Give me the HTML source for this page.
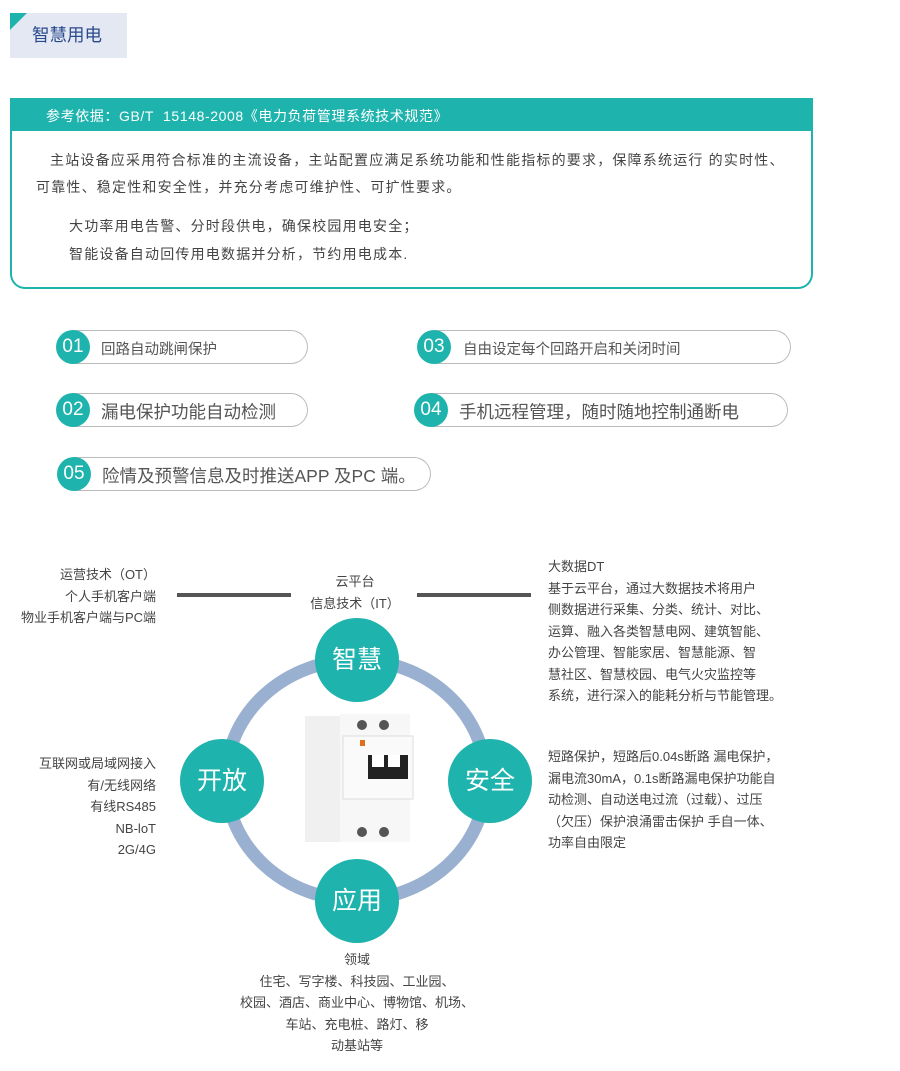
<!DOCTYPE html>
<html><head><meta charset="utf-8"><style>
*{margin:0;padding:0;box-sizing:border-box}
body{width:900px;height:1071px;background:#fff;position:relative;overflow:hidden;font-family:"Liberation Sans","Noto Sans CJK SC",sans-serif;color:#444}
.a{position:absolute}
.pill{position:absolute;height:34px;border:1px solid #bbb;border-left:none;border-radius:0 17px 17px 0;}
.num{position:absolute;width:34px;height:34px;border-radius:50%;background:#1fb3ad;color:#fff;font-size:19px;text-align:center;line-height:34px}
.pt{position:absolute;color:#555;white-space:nowrap}
.big{position:absolute;width:84px;height:84px;border-radius:50%;background:#1fb3ad;color:#fff;font-size:25px;text-align:center;line-height:84px}
.t{position:absolute;font-size:13px;line-height:21.5px;color:#444;white-space:nowrap}
.p{position:absolute;font-size:14px;letter-spacing:1.2px;color:#444;white-space:nowrap}
</style></head><body>
<div class="a" style="left:10px;top:13px;width:117px;height:45px;background:#e3e8f3"></div>
<div class="a" style="left:10px;top:13px;width:0;height:0;border-top:17px solid #1fb3ad;border-right:17px solid transparent"></div>
<div class="a" style="left:32px;top:22px;font-size:17.5px;color:#2b4a8c">智慧用电</div>

<div class="a" style="left:10px;top:98px;width:803px;height:191px;border:2px solid #1fb3ad;border-top:none;border-radius:0 0 15px 15px"></div>
<div class="a" style="left:10px;top:98px;width:803px;height:33px;background:#1fb3ad"></div>
<div class="a" style="left:46px;top:106px;font-size:14px;letter-spacing:0.6px;color:#fff;white-space:nowrap">参考依据：GB/T&nbsp; 15148-2008《电力负荷管理系统技术规范》</div>
<div class="p" style="left:50px;top:150px">主站设备应采用符合标准的主流设备，主站配置应满足系统功能和性能指标的要求，保障系统运行 的实时性、</div>
<div class="p" style="left:36px;top:177px">可靠性、稳定性和安全性，并充分考虑可维护性、可扩性要求。</div>
<div class="p" style="left:69px;top:216px">大功率用电告警、分时段供电，确保校园用电安全；</div>
<div class="p" style="left:69px;top:244px">智能设备自动回传用电数据并分析，节约用电成本.</div>

<div class="pill" style="left:73px;top:330px;width:235px"></div><div class="num" style="left:56px;top:330px">01</div><div class="pt" style="left:101px;top:338px;font-size:14.5px">回路自动跳闸保护</div>
<div class="pill" style="left:434px;top:330px;width:357px"></div><div class="num" style="left:417px;top:330px">03</div><div class="pt" style="left:463px;top:338px;font-size:14.5px">自由设定每个回路开启和关闭时间</div>
<div class="pill" style="left:73px;top:393px;width:235px"></div><div class="num" style="left:56px;top:393px">02</div><div class="pt" style="left:101px;top:399px;font-size:17.5px">漏电保护功能自动检测</div>
<div class="pill" style="left:431px;top:393px;width:357px"></div><div class="num" style="left:414px;top:393px">04</div><div class="pt" style="left:459px;top:399px;font-size:17.5px">手机远程管理，随时随地控制通断电</div>
<div class="pill" style="left:74px;top:457px;width:357px"></div><div class="num" style="left:57px;top:457px">05</div><div class="pt" style="left:102px;top:463px;font-size:17.5px">险情及预警信息及时推送APP 及PC 端。</div>

<svg class="a" style="left:0;top:0" width="900" height="1071">
<ellipse cx="356" cy="780" rx="130" ry="120" fill="none" stroke="#9ab0d0" stroke-width="13"/>
<rect x="177" y="593" width="114" height="4" fill="#555"/>
<rect x="417" y="593" width="114" height="4" fill="#555"/>
<g>
<rect x="305" y="716" width="46" height="126" fill="#f0f0f0"/>
<rect x="340" y="714" width="70" height="128" fill="#f7f7f7"/>
<rect x="343" y="736" width="70" height="63" fill="#fafafa" stroke="#ddd"/>
<circle cx="362" cy="725" r="5" fill="#555"/><circle cx="384" cy="725" r="5" fill="#555"/>
<circle cx="362" cy="832" r="5" fill="#555"/><circle cx="384" cy="832" r="5" fill="#555"/>
<rect x="360" y="740" width="5" height="6" fill="#e07020"/>
<rect x="368" y="755" width="40" height="24" fill="#222"/>
<rect x="372" y="755" width="12" height="12" fill="#fff"/><rect x="388" y="755" width="12" height="12" fill="#fff"/>
</g>
</svg>
<div class="big" style="left:315px;top:618px">智慧</div>
<div class="big" style="left:180px;top:739px">开放</div>
<div class="big" style="left:448px;top:739px">安全</div>
<div class="big" style="left:315px;top:859px">应用</div>

<div class="t" style="left:6px;top:564px;width:150px;text-align:right">运营技术（OT）<br>个人手机客户端<br>物业手机客户端与PC端</div>
<div class="t" style="left:295px;top:571px;width:120px;text-align:center">云平台<br>信息技术（IT）</div>
<div class="t" style="left:548px;top:556px">大数据DT<br>基于云平台，通过大数据技术将用户<br>侧数据进行采集、分类、统计、对比、<br>运算、融入各类智慧电网、建筑智能、<br>办公管理、智能家居、智慧能源、智<br>慧社区、智慧校园、电气火灾监控等<br>系统，进行深入的能耗分析与节能管理。</div>
<div class="t" style="left:6px;top:753px;width:150px;text-align:right">互联网或局域网接入<br>有/无线网络<br>有线RS485<br>NB-loT<br>2G/4G</div>
<div class="t" style="left:548px;top:746px">短路保护，短路后0.04s断路 漏电保护，<br>漏电流30mA，0.1s断路漏电保护功能自<br>动检测、自动送电过流（过载）、过压<br>（欠压）保护浪涌雷击保护 手自一体、<br>功率自由限定</div>
<div class="t" style="left:197px;top:949px;width:320px;text-align:center">领域<br>住宅、写字楼、科技园、工业园、<br>校园、酒店、商业中心、博物馆、机场、<br>车站、充电桩、路灯、移<br>动基站等</div>
</body></html>
